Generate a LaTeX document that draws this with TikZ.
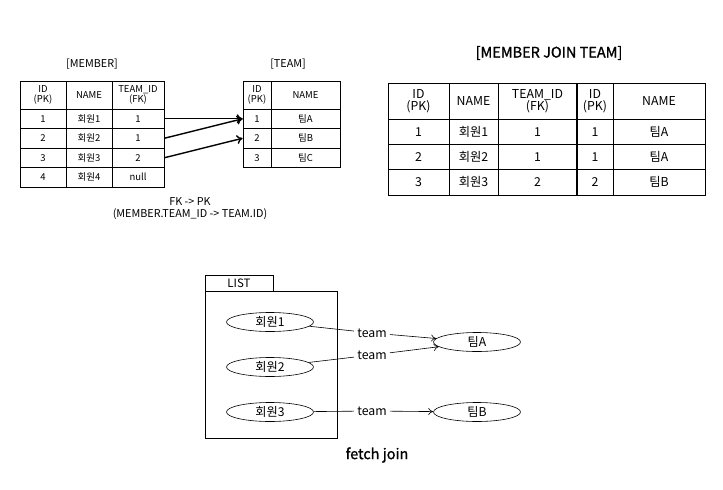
\documentclass[tikz,border=0pt]{standalone}
\usepackage{fontspec}
\setmainfont{Noto Sans CJK KR}
\newfontfamily\medfont[FakeBold=1.3]{Noto Sans CJK KR}
\usetikzlibrary{shapes.geometric,arrows.meta}

\begin{document}
\begin{tikzpicture}[x=1pt,y=-1pt,
    cell/.style={draw, rectangle, inner sep=0pt, line width=0.7pt, align=center, font=\fontsize{9.5}{9.5}\selectfont},
    bigcell/.style={cell, font=\fontsize{12.3}{12}\selectfont},
    fk/.style={line width=1.4pt, -{To[length=6pt,width=9pt]}},
    obj/.style={draw, ellipse, line width=0.6pt, minimum width=87pt, minimum height=19pt, inner sep=0pt, font=\fontsize{12.2}{12}\selectfont},
    ref/.style={line width=0.6pt},
    reflabel/.style={inner sep=3pt, font=\fontsize{12.3}{12}\selectfont},
    caption/.style={font=\fontsize{10.8}{12}\selectfont}]

  \useasboundingbox (0,0) rectangle (723,490);

  \node[caption] (mtitle) at (92,64) {[MEMBER]};
  \node[caption] (ttitle) at (288,64) {[TEAM]};

  \node[cell, minimum width=46pt, minimum height=28pt] (mh-id) at (43,95) {ID\\(PK)};
  \node[cell, minimum width=46pt, minimum height=28pt] (mh-name) at (89,95) {NAME};
  \node[cell, minimum width=52pt, minimum height=28pt] (mh-team) at (138,95) {TEAM\_ID\\(FK)};
  \foreach \id/\name/\team [count=\r] in {1/회원1/1, 2/회원2/1, 3/회원3/2, 4/회원4/null} {
    \node[cell, minimum width=46pt, minimum height=19.5pt] (m\r-id) at (43,99.25+19.5*\r) {\id};
    \node[cell, minimum width=46pt, minimum height=19.5pt] (m\r-name) at (89,99.25+19.5*\r) {\name};
    \node[cell, minimum width=52pt, minimum height=19.5pt] (m\r-team) at (138,99.25+19.5*\r) {\team};
  }

  \node[cell, minimum width=28pt, minimum height=28pt] (th-id) at (257,95) {ID\\(PK)};
  \node[cell, minimum width=69pt, minimum height=28pt] (th-name) at (305.5,95) {NAME};
  \foreach \id/\name [count=\r] in {1/팀A, 2/팀B, 3/팀C} {
    \node[cell, minimum width=28pt, minimum height=19.5pt] (t\r-id) at (257,99.25+19.5*\r) {\id};
    \node[cell, minimum width=69pt, minimum height=19.5pt] (t\r-name) at (305.5,99.25+19.5*\r) {\name};
  }

  \draw[fk] (m1-team.east) -- (t1-id.west);
  \draw[fk] (m2-team.east) -- (t1-id.west);
  \draw[fk] (m3-team.east) -- (t2-id.west);

  \node[caption, align=center] (fkpk) at (190,209) {FK -> PK\\(MEMBER.TEAM\_ID -> TEAM.ID)};

  \node[font=\fontsize{14.5}{14}\medfont] (jtitle) at (549,53) {[MEMBER JOIN TEAM]};
  \node[bigcell, minimum width=61pt, minimum height=36pt] (jh-id) at (418.5,101) {ID\\(PK)};
  \node[bigcell, minimum width=49pt, minimum height=36pt] (jh-name) at (473.5,101) {NAME};
  \node[bigcell, minimum width=79pt, minimum height=36pt] (jh-team) at (537.5,101) {TEAM\_ID\\(FK)};
  \node[bigcell, minimum width=36pt, minimum height=36pt] (jh-tid) at (595,101) {ID\\(PK)};
  \node[bigcell, minimum width=92pt, minimum height=36pt] (jh-tname) at (659,101) {NAME};
  \foreach \id/\name/\team/\tid/\tname [count=\r] in {1/회원1/1/1/팀A, 2/회원2/1/1/팀A, 3/회원3/2/2/팀B} {
    \node[bigcell, minimum width=61pt, minimum height=25.3pt] (j\r-id) at (418.5,106.35+25.3*\r) {\id};
    \node[bigcell, minimum width=49pt, minimum height=25.3pt] (j\r-name) at (473.5,106.35+25.3*\r) {\name};
    \node[bigcell, minimum width=79pt, minimum height=25.3pt] (j\r-team) at (537.5,106.35+25.3*\r) {\team};
    \node[bigcell, minimum width=36pt, minimum height=25.3pt] (j\r-tid) at (595,106.35+25.3*\r) {\tid};
    \node[bigcell, minimum width=92pt, minimum height=25.3pt] (j\r-tname) at (659,106.35+25.3*\r) {\tname};
  }
  \draw[line width=1.5pt] (jh-tid.north west) -- (j3-tid.south west);

  \node[draw, line width=0.6pt, minimum width=68pt, minimum height=16pt, inner sep=0pt, font=\fontsize{11.5}{12}\selectfont] (tab) at (239,283) {LIST};
  \node[draw, line width=0.6pt, minimum width=132pt, minimum height=147pt, inner sep=0pt] (list) at (271,364.5) {};

  \node[obj] (e1) at (270,322) {회원1};
  \node[obj] (e2) at (270,367) {회원2};
  \node[obj] (e3) at (270,412) {회원3};
  \node[obj] (ta) at (477,342) {팀A};
  \node[obj] (tb) at (477,412) {팀B};

  \node[reflabel] (l1) at (372,333) {team};
  \node[reflabel] (l2) at (372,355) {team};
  \node[reflabel] (l3) at (372,411) {team};

  \draw[ref] (e1) -- (l1);
  \draw[ref, -{To[length=5pt,width=7pt]}] (l1) -- (ta);
  \draw[ref] (e2) -- (l2);
  \draw[ref, -{To[length=5pt,width=7pt]}] (l2) -- (ta);
  \draw[ref] (e3) -- (l3);
  \draw[ref, -{To[length=5pt,width=7pt]}] (l3) -- (tb);

  \node[font=\fontsize{14.5}{14}\medfont] (fetch) at (377,455) {fetch join};
\end{tikzpicture}
\end{document}
